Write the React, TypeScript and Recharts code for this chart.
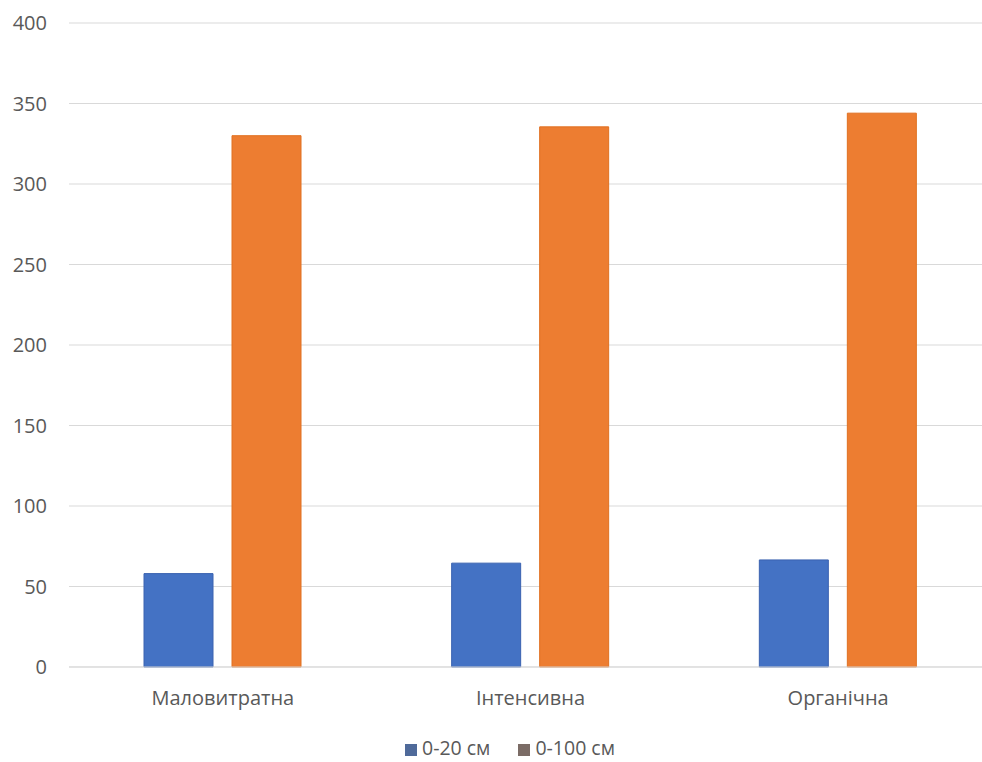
import { Bar, BarChart, CartesianGrid, XAxis, YAxis } from "recharts";

const categories = ["Маловитратна", "Інтенсивна", "Органічна"];
const depth20 = [58, 64.5, 66.5];
const depth100 = [330, 335.5, 344];
const yTicks = [0, 50, 100, 150, 200, 250, 300, 350, 400];
const seriesNames = ["0-20 см", "0-100 см"];
const barColors = ["#4472C4", "#ED7D31"];
const legendColors = ["#4f6a9a", "#7b6c66"];

const data = categories.map((name, i) => ({
  name,
  d20: depth20[i],
  d100: depth100[i],
}));

const font = "'Open Sans', 'Noto Sans', sans-serif";

function LegendBox() {
  return (
    <div
      style={{
        position: "absolute",
        left: 0,
        top: 735,
        width: 1020,
        height: 26,
        display: "flex",
        justifyContent: "center",
        alignItems: "center",
        gap: 28,
        fontFamily: font,
        fontSize: 19.5,
        lineHeight: "26px",
        color: "#595959",
      }}
    >
      {seriesNames.map((s, i) => (
        <span key={s} style={{ display: "flex", alignItems: "center" }}>
          <span
            style={{
              display: "inline-block",
              width: 12,
              height: 12,
              background: legendColors[i],
              marginRight: 5,
              marginTop: 3,
            }}
          />
          {s}
        </span>
      ))}
    </div>
  );
}

export default function App() {
  return (
    <div
      style={{
        position: "fixed",
        top: 0,
        left: 0,
        width: 982,
        height: 762,
        overflow: "hidden",
        background: "#fff",
      }}
    >
      <BarChart
        width={992}
        height={762}
        data={data}
        margin={{ top: 23, right: 0, left: 0, bottom: 0 }}
        barCategoryGap={75}
        barGap={19}
      >
        <CartesianGrid vertical={false} stroke="#d9d9d9" />
        <XAxis
          dataKey="name"
          height={95}
          axisLine={{ stroke: "#d9d9d9" }}
          tickLine={false}
          tickMargin={18}
          tick={{ fill: "#595959", fontSize: 20, fontFamily: font }}
        />
        <YAxis
          width={69}
          domain={[0, 400]}
          ticks={yTicks}
          axisLine={false}
          tickLine={false}
          tickMargin={16}
          tick={{ fill: "#595959", fontSize: 20, fontFamily: font }}
        />
        <Bar dataKey="d20" name={seriesNames[0]} fill={barColors[0]} stroke="#3a62b0" barSize={69} isAnimationActive={false} />
        <Bar dataKey="d100" name={seriesNames[1]} fill={barColors[1]} stroke="#e07020" barSize={69} isAnimationActive={false} />
      </BarChart>
      <LegendBox />
    </div>
  );
}
